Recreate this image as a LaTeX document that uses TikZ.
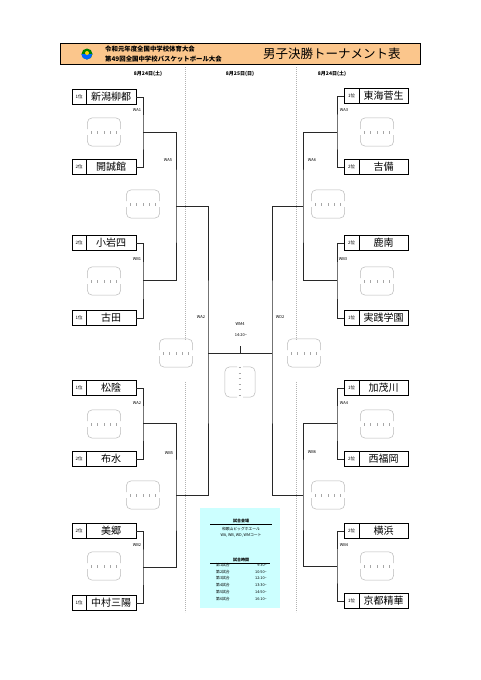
\documentclass[tikz,border=0pt]{standalone}
\usepackage{fontspec}
\setmainfont{Noto Sans CJK JP}
\usetikzlibrary{positioning,calc}
\definecolor{hdrfill}{RGB}{251,198,140}
\definecolor{infofill}{RGB}{204,255,255}
\definecolor{conncol}{RGB}{40,40,40}
\newcommand\mkteam[6]{%
  \node[teambox,minimum width=64pt] (#1) at (#2,#3) {};
  \draw[line width=0.5pt] ([xshift=#6pt]#1.north west) -- ([xshift=#6pt]#1.south west);
  \node[rank] (#1r) at ([xshift=#6pt/2]#1.west) {#4};
  \node[tname] (#1n) at ([xshift={(64pt+#6pt)/2}]#1.west) {#5};
}
\newcommand\mkscore[3]{%
  \node[scorebox] (#1) at (#2,#3) {};
  \draw[scoreline] ([yshift=3pt]#1.west) |- (#1.north) -| ([yshift=3pt]#1.east);
  \draw[scoreline] ([yshift=-3pt]#1.west) |- (#1.south) -| ([yshift=-3pt]#1.east);
  \foreach \k in {-2,-1,0,1,2} \draw[tickline] ([xshift=\k*6.3pt,yshift=-1.5pt]#1.center) -- ([xshift=\k*6.3pt,yshift=1.5pt]#1.center);
}
\tikzset{
  teambox/.style={draw=black,line width=0.8pt,minimum height=15pt,inner sep=0pt,fill=white},
  rank/.style={font=\fontsize{4.5}{5}\selectfont,inner sep=0pt},
  tname/.style={font=\fontsize{10}{10}\selectfont,inner sep=0pt},
  scorebox/.style={minimum width=33pt,minimum height=28pt,inner sep=0pt},
  scoreline/.style={draw=gray!55,line width=0.5pt,rounded corners=5pt},
  tickline/.style={draw=gray!70,line width=0.45pt},
  conn/.style={draw=conncol,line width=0.55pt},
  guide/.style={draw=gray!60,line width=0.45pt,dash pattern=on 1.2pt off 0.8pt},
  lbl/.style={font=\fontsize{4}{4.5}\selectfont,inner sep=0pt},
  date/.style={font=\fontsize{5}{6}\selectfont\bfseries,inner sep=0pt},
  info/.style={font=\fontsize{3.8}{4.2}\selectfont,inner sep=0pt}
}
\begin{document}
\begin{tikzpicture}[x=1pt,y=-1pt]
\useasboundingbox (0,0) rectangle (481,680);
\fill[white] (0,0) rectangle (481,680);
% header
\node[draw=black,line width=0.6pt,fill=hdrfill,minimum width=360pt,minimum height=21pt,inner sep=0pt] (hdr) at (240,54) {};
\node[circle,fill=green!50!black,minimum size=11pt,inner sep=0pt] (logo) at (87,54) {};
\fill[blue!60!cyan] (logo.west) arc[start angle=180,end angle=360,radius=5.5pt] -- cycle;
\node[circle,fill=yellow!70!orange,minimum size=4pt,inner sep=0pt] (logoc) at (87,53) {};
\node[anchor=west,inner sep=0pt,font=\fontsize{6.4}{7}\selectfont\bfseries] (h1) at (105,49.5) {令和元年度全国中学校体育大会};
\node[anchor=west,inner sep=0pt,font=\fontsize{6.4}{7}\selectfont\bfseries] (h2) at (105,59) {第49回全国中学校バスケットボール大会};
\node[anchor=west,inner sep=0pt,font=\fontsize{12.5}{13}\selectfont] (title) at (263,54) {男子決勝トーナメント表};
% dates
\node[date] (d1) at (148,74) {8月24日(土)};
\node[date] (d2) at (240,74) {8月25日(日)};
\node[date] (d3) at (332,74) {8月24日(土)};
% guide lines
\coordinate (gl1) at (185,67); \coordinate (gl2) at (185,340);
\coordinate (gl3) at (185,382); \coordinate (gl4) at (185,612);
\coordinate (gr1) at (296,67); \coordinate (gr2) at (296,340);
\coordinate (gr3) at (296,382); \coordinate (gr4) at (296,612);
\draw[guide] (gl1) -- (gl2); \draw[guide] (gl3) -- (gl4);
\draw[guide] (gr1) -- (gr2); \draw[guide] (gr3) -- (gr4);
% teams left
\mkteam{L1}{104}{97}{1位}{新潟柳都}{15}
\mkteam{L2}{104}{167}{2位}{開誠館}{15}
\mkteam{L3}{104}{243}{2位}{小岩四}{15}
\mkteam{L4}{104}{318}{1位}{古田}{15}
\mkteam{L5}{104}{388}{1位}{松陰}{15}
\mkteam{L6}{104}{459}{2位}{布水}{15}
\mkteam{L7}{104}{531}{2位}{美郷}{15}
\mkteam{L8}{104}{603}{1位}{中村三陽}{15}
% teams right
\mkteam{R1}{376}{96}{1位}{東海菅生}{16}
\mkteam{R2}{376}{167}{2位}{吉備}{16}
\mkteam{R3}{376}{243}{2位}{鹿南}{16}
\mkteam{R4}{376}{318}{1位}{実践学園}{16}
\mkteam{R5}{376}{388}{1位}{加茂川}{16}
\mkteam{R6}{376}{459}{2位}{西福岡}{16}
\mkteam{R7}{376}{531}{2位}{横浜}{16}
\mkteam{R8}{376}{601}{1位}{京都精華}{16}
% joints left
\coordinate (jL1) at (143,132); \coordinate (jL2) at (143,280);
\coordinate (jL3) at (143,423); \coordinate (jL4) at (143,567);
\coordinate (mL1) at (176,206); \coordinate (mL2) at (176,495);
\coordinate (sL) at (208,353);
% joints right
\coordinate (jR1) at (337,132); \coordinate (jR2) at (337,280);
\coordinate (jR3) at (337,423); \coordinate (jR4) at (337,566);
\coordinate (mR1) at (303,206); \coordinate (mR2) at (303,495);
\coordinate (sR) at (272,353);
\coordinate (fin) at (240,353); \coordinate (wm) at (240,346);
% connectors left
\draw[conn] (L1.east) -| (jL1) |- (L2.east);
\draw[conn] (L3.east) -| (jL2) |- (L4.east);
\draw[conn] (L5.east) -| (jL3) |- (L6.east);
\draw[conn] (L7.east) -| (jL4) |- (L8.east);
\draw[conn] (jL1) -| (mL1) |- (jL2);
\draw[conn] (jL3) -| (mL2) |- (jL4);
\draw[conn] (mL1) -| (sL) |- (mL2);
% connectors right
\draw[conn] (R1.west) -| (jR1) |- (R2.west);
\draw[conn] (R3.west) -| (jR2) |- (R4.west);
\draw[conn] (R5.west) -| (jR3) |- (R6.west);
\draw[conn] (R7.west) -| (jR4) |- (R8.west);
\draw[conn] (jR1) -| (mR1) |- (jR2);
\draw[conn] (jR3) -| (mR2) |- (jR4);
\draw[conn] (mR1) -| (sR) |- (mR2);
\draw[conn] (sL) -- (sR);
\draw[conn] (fin) -- (wm);
% labels
\node[lbl] (a1) at (137,110) {WA1};
\node[lbl] (a2) at (168,160) {WA5};
\node[lbl] (a3) at (137,259) {WB1};
\node[lbl] (a4) at (201,317) {WA2};
\node[lbl] (a5) at (137,403) {WA2};
\node[lbl] (a6) at (169,453) {WB5};
\node[lbl] (a7) at (137,545) {WB2};
\node[lbl] (b1) at (344,110) {WA3};
\node[lbl] (b2) at (312,160) {WA6};
\node[lbl] (b3) at (343,259) {WB3};
\node[lbl] (b4) at (280,317) {WD2};
\node[lbl] (b5) at (344,403) {WA4};
\node[lbl] (b6) at (312,452) {WB6};
\node[lbl] (b7) at (344,545) {WB4};
\node[lbl] (wm4) at (240,324) {WM4};
\node[lbl] (tm) at (241,335) {14:20\textasciitilde};
% score boxes
\mkscore{sc1}{104}{132}
\mkscore{sc2}{104}{281}
\mkscore{sc3}{104}{424}
\mkscore{sc4}{104}{566}
\mkscore{sc5}{143}{204}
\mkscore{sc6}{143}{495}
\mkscore{sc7}{377}{132}
\mkscore{sc8}{377}{281}
\mkscore{sc9}{377}{424}
\mkscore{sc10}{377}{566}
\mkscore{sc11}{328}{204}
\mkscore{sc12}{328}{495}
\mkscore{sc13}{176}{353}
\mkscore{sc14}{304}{353}
% final box (vertical)
\node[minimum width=30pt,minimum height=30pt,inner sep=0pt] (fbox) at (240,382) {};
\draw[scoreline] ([xshift=-3pt]fbox.north) -| (fbox.west) |- ([xshift=-3pt]fbox.south);
\draw[scoreline] ([xshift=3pt]fbox.north) -| (fbox.east) |- ([xshift=3pt]fbox.south);
\foreach \k in {-2,-1,0,1,2,3} \draw[tickline] ([yshift=\k*5.5pt-2pt,xshift=-1.3pt]fbox.center) -- ([yshift=\k*5.5pt-2pt,xshift=1.3pt]fbox.center);
% info box
\node[fill=infofill,minimum width=80pt,minimum height=100pt,inner sep=0pt] (ib) at (240,558) {};
\node[info,font=\fontsize{4}{4.5}\selectfont\bfseries] (i1) at (241,520.5) {試合会場};
\coordinate (u1a) at (210,524); \coordinate (u1b) at (272,524);
\draw[line width=0.7pt] (u1a) -- (u1b);
\node[info] (i2) at (241,529) {和歌山ビッグホエール};
\node[info] (i3) at (241,535.5) {WA, WB, WD, WMコート};
\node[info,font=\fontsize{4}{4.5}\selectfont\bfseries] (i4) at (241,559.5) {試合時間};
\coordinate (u2a) at (210,563); \coordinate (u2b) at (270,563);
\draw[line width=0.7pt] (u2a) -- (u2b);
\foreach \n/\t/\yy in {1/9:30/565.5,2/10:50/572,3/12:10/578.5,4/13:30/585.5,5/14:50/592,6/16:10/599}{
  \node[info,anchor=west] (r\n a) at (216,\yy) {第\n 試合};
  \node[info,anchor=east] (r\n b) at (267,\yy) {\t\textasciitilde};
}
\end{tikzpicture}
\end{document}
